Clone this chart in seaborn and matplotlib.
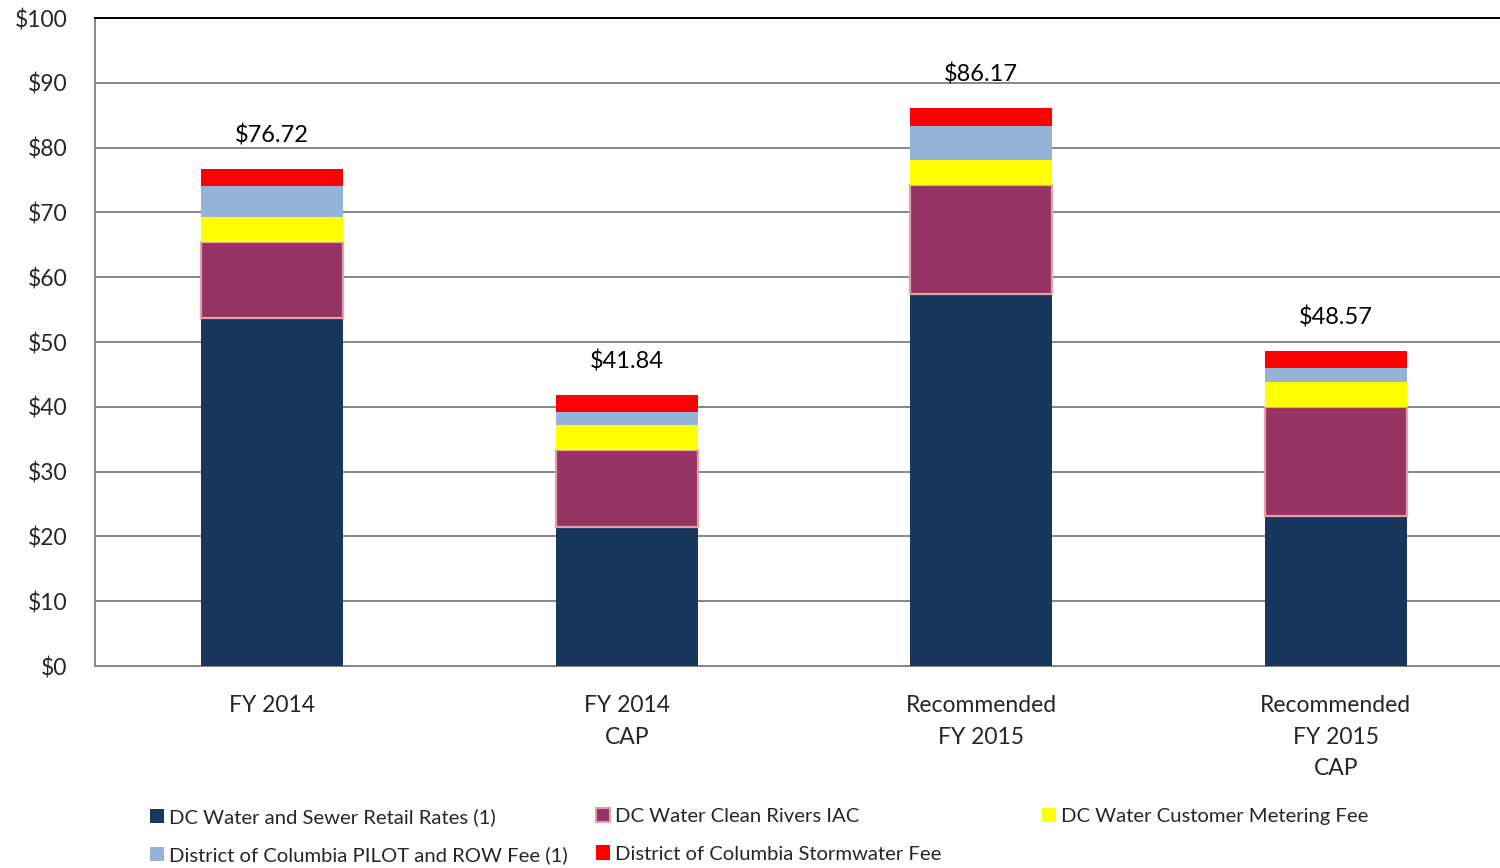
import matplotlib
matplotlib.use("Agg")
import matplotlib.pyplot as plt
import seaborn as sns
import numpy as np
from matplotlib.patches import Patch

categories = ["FY 2014", "FY 2014\nCAP", "Recommended\nFY 2015", "Recommended\nFY 2015\nCAP"]
totals = [76.72, 41.84, 86.17, 48.57]
retail = [53.66, 21.50, 57.47, 23.15]
clean_rivers = [11.82, 11.82, 16.82, 16.82]
metering = [3.86, 3.86, 3.86, 3.86]
pilot_row = [4.79, 2.00, 5.18, 2.10]
stormwater = [2.59, 2.66, 2.84, 2.64]
y_ticks = [0, 10, 20, 30, 40, 50, 60, 70, 80, 90, 100]
y_labels = ["$" + str(v) for v in y_ticks]

series = [
    ("DC Water and Sewer Retail Rates (1)", retail, "#17375E", None),
    ("DC Water Clean Rivers IAC", clean_rivers, "#953462", "#E3A1A6"),
    ("DC Water Customer Metering Fee", metering, "#FFFF00", None),
    ("District of Columbia PILOT and ROW Fee (1)", pilot_row, "#95B3D7", None),
    ("District of Columbia Stormwater Fee", stormwater, "#FF0000", None),
]

sns.set_theme(style="white")
plt.rcParams['font.family'] = ['Lato', 'DejaVu Sans']

fig = plt.figure(figsize=(15, 8.68), dpi=100)
ax = fig.add_axes([95/1500, 1-666/868, 1418/1500, 648/868])

bottom = np.zeros(len(categories))
for name, vals, color, edge in series:
    vals = np.array(vals)
    kw = dict(linewidth=0)
    if edge is not None:
        kw = dict(linewidth=1.6, edgecolor=edge)
    sns.barplot(x=categories, y=vals, bottom=bottom, color=color, width=0.4,
                errorbar=None, saturation=1, ax=ax, zorder=3, **kw)
    bottom = bottom + vals

for i, t in enumerate(totals):
    ax.annotate(f"${t:.2f}", xy=(i, t), xytext=(0, 24), textcoords="offset points",
                ha="center", va="center", fontsize=17, color="black")

ax.set_xlim(-0.5, 3.5)
ax.set_ylim(0, 100)
ax.set_yticks(y_ticks)
ax.set_yticklabels(y_labels, fontsize=16.5)
ax.set_xticks(range(len(categories)))
ax.set_xticklabels(categories, fontsize=16.5, linespacing=1.62)
ax.set_xticks([-0.5, 0.5, 1.5, 2.5, 3.5], minor=True)
ax.tick_params(axis="x", which="major", length=0, pad=21)
ax.tick_params(axis="x", which="minor", length=7, width=1.4, color="#868686", direction="out")
ax.tick_params(axis="y", length=7, width=1.4, color="#868686", direction="out", pad=13)
ax.set_xlabel("")
ax.set_ylabel("")
ax.yaxis.grid(True, color="#868686", linewidth=1.4)
ax.set_axisbelow(True)
for s in ["left", "bottom"]:
    ax.spines[s].set_color("#868686")
    ax.spines[s].set_linewidth(1.4)
ax.spines["top"].set_color("black")
ax.spines["top"].set_linewidth(1.4)
ax.spines["right"].set_visible(False)

legend_cols = [
    (150/1500, [series[0], series[3]]),
    (596/1500, [series[1], series[4]]),
    (1042/1500, [series[2]]),
]
for x, items in legend_cols:
    handles = [Patch(facecolor=c, edgecolor=(e if e else c), linewidth=(1.5 if e else 0), label=n)
               for n, v, c, e in items]
    fig.legend(handles=handles, loc="upper left", bbox_to_anchor=(x, 1-808/868),
               frameon=False, fontsize=14.6, handlelength=0.7, handleheight=0.7,
               handletextpad=0.25, labelspacing=1.0, borderaxespad=0, borderpad=0)

fig.savefig("out.png", dpi=100)
